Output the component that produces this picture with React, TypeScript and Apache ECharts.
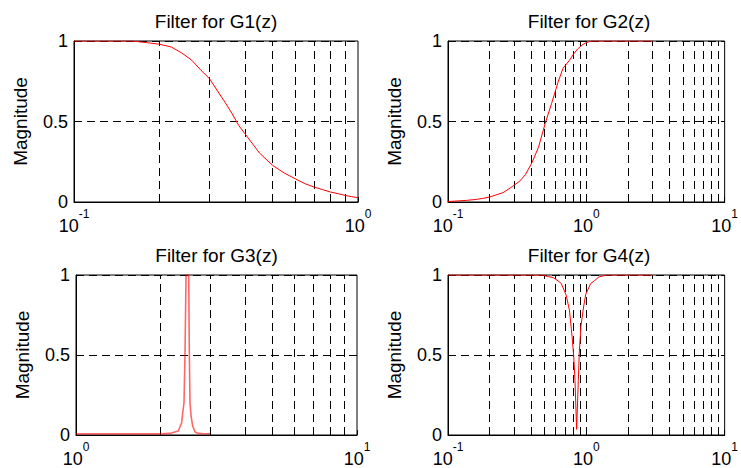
import React, { useEffect, useRef } from 'react';
import * as echarts from 'echarts';

const FONT = '"Liberation Sans", Arial, Helvetica, sans-serif';

const titles = ['Filter for G1(z)', 'Filter for G2(z)', 'Filter for G3(z)', 'Filter for G4(z)'];
const yName = 'Magnitude';
const yTicks = [0, 0.5, 1];

// G1: low-pass, 0.1 .. 1
const g1Freq = [0.1, 0.12, 0.14, 0.16, 0.18, 0.2, 0.22, 0.24, 0.26, 0.28, 0.3, 0.32, 0.34, 0.36, 0.38, 0.4, 0.45, 0.5, 0.55, 0.6, 0.65, 0.7, 0.75, 0.8, 0.85, 0.9, 0.95, 1.0];
const g1Mag = [1, 1, 1, 1, 0.99, 0.98, 0.963, 0.925, 0.88, 0.818, 0.766, 0.69, 0.62, 0.55, 0.476, 0.424, 0.304, 0.228, 0.18, 0.145, 0.114, 0.093, 0.077, 0.062, 0.052, 0.041, 0.033, 0.027];

// G2: high-pass, 0.1 .. 3
const g2Freq = [0.1, 0.12, 0.136, 0.16, 0.18, 0.2, 0.25, 0.292, 0.33, 0.363, 0.405, 0.451, 0.503, 0.56, 0.625, 0.678, 0.755, 0.81, 0.865, 0.93, 0.99, 1.05, 1.106, 1.5, 2, 3];
const g2Mag = [0.003, 0.007, 0.01, 0.016, 0.023, 0.031, 0.058, 0.096, 0.13, 0.17, 0.245, 0.34, 0.485, 0.61, 0.745, 0.83, 0.88, 0.92, 0.95, 0.975, 0.988, 0.996, 1, 1, 1, 1];

// G3: narrow band-pass, 1 .. 3
const g3Freq = [1, 1.5, 2, 2.16, 2.312, 2.377, 2.398, 2.423, 2.443, 2.464, 2.518, 2.531, 2.545, 2.567, 2.602, 2.652, 2.725, 2.85, 3];
const g3Mag = [0.008, 0.008, 0.008, 0.01, 0.025, 0.077, 0.14, 0.2, 0.51, 1, 1, 0.51, 0.2, 0.12, 0.056, 0.019, 0.01, 0.008, 0.008];

// G4: notch, 0.1 .. 3
const g4Freq = [0.1, 0.3, 0.45, 0.489, 0.53, 0.576, 0.625, 0.659, 0.715, 0.755, 0.789, 0.811, 0.828, 0.851, 0.875, 0.889, 0.914, 0.955, 0.991, 1.076, 1.14, 1.233, 1.41, 2, 3];
const g4Mag = [1, 1, 1, 0.998, 0.99, 0.984, 0.963, 0.947, 0.874, 0.78, 0.615, 0.49, 0.34, 0.035, 0.34, 0.51, 0.68, 0.8, 0.88, 0.947, 0.963, 0.988, 1, 1, 1];

const xMin = [0.1, 0.1, 1, 0.1];
const xMax = [1, 10, 10, 10];

const gridA = [0.2, 0.3, 0.4, 0.5, 0.6, 0.7, 0.8, 0.9];
const gridB = [0.2, 0.3, 0.4, 0.5, 0.6, 0.7, 0.8, 0.9, 1, 2, 3, 4, 5, 6, 7, 8, 9];
const gridC = [2, 3, 4, 5, 6, 7, 8, 9];
const vGrids = [gridA, gridB, gridC, gridB];

const freqs = [g1Freq, g2Freq, g3Freq, g4Freq];
const mags = [g1Mag, g2Mag, g3Mag, g4Mag];

const rects = [
  { left: 74, top: 41, width: 284, height: 161 },
  { left: 448, top: 41, width: 282, height: 161 },
  { left: 76, top: 275, width: 281, height: 161 },
  { left: 448, top: 275, width: 282, height: 161 },
];
const titleY = [21, 255];

const DASH = [8, 5];

export default function App() {
  const ref = useRef<HTMLDivElement>(null);
  useEffect(() => {
    if (!ref.current) return;
    const chart = echarts.init(ref.current, undefined, { renderer: 'svg' });
    const grid = rects.map((r) => ({
      ...r,
      show: true,
      borderColor: '#000',
      borderWidth: 1,
      backgroundColor: '#fff',
      containLabel: false,
    }));
    const xAxis = rects.map((_, i) => ({
      type: 'log',
      logBase: 10,
      gridIndex: i,
      min: xMin[i],
      max: xMax[i],
      axisLine: { show: true, lineStyle: { color: '#000', width: 1 } },
      axisTick: { show: true, inside: true, length: 5, lineStyle: { color: '#000' } },
      splitLine: { show: false },
      axisLabel: {
        margin: 6,
        color: '#000',
        formatter: (v: number) => {
          const e = Math.round(Math.log10(v));
          return `{b|10}{s|${e}}`;
        },
        rich: {
          b: { fontSize: 18, lineHeight: 27, fontFamily: FONT, color: '#000', verticalAlign: 'bottom' },
          s: { fontSize: 12, lineHeight: 12, fontFamily: FONT, color: '#000', verticalAlign: 'top' },
        },
      },
    }));
    const yAxis = rects.map((_, i) => ({
      type: 'value',
      gridIndex: i,
      min: yTicks[0],
      max: yTicks[yTicks.length - 1],
      interval: 0.5,
      name: yName,
      nameLocation: 'middle',
      nameGap: 44,
      nameTextStyle: { fontSize: 19, fontFamily: FONT, color: '#000' },
      axisLine: { show: true, lineStyle: { color: '#000', width: 1 } },
      axisTick: { show: true, inside: true, length: 5, lineStyle: { color: '#000' } },
      splitLine: { show: true, lineStyle: { color: '#000', type: DASH, width: 1 } },
      axisLabel: { margin: 6, fontSize: 18, fontFamily: FONT, color: '#000' },
    }));
    const series = rects.map((_, i) => ({
      type: 'line',
      xAxisIndex: i,
      yAxisIndex: i,
      data: freqs[i].map((f, k) => [f, mags[i][k]]),
      showSymbol: false,
      symbol: 'none',
      clip: true,
      z: 3,
      lineStyle: i === 2 ? { color: 'rgba(255,0,0,0.6)', width: 1.6 } : { color: '#ff0000', width: 1 },
      emphasis: { disabled: true },
      markLine: {
        silent: true,
        symbol: ['none', 'none'],
        z: 1,
        label: { show: false },
        lineStyle: { color: '#000', type: DASH, width: 1 },
        emphasis: { disabled: true },
        data: vGrids[i].map((v) => ({ xAxis: v })),
      },
    }));
    const graphic = rects.map((r, i) => ({
      type: 'text',
      x: r.left + r.width / 2,
      y: titleY[i < 2 ? 0 : 1],
      style: {
        text: titles[i],
        fontSize: 19,
        fontFamily: FONT,
        fill: '#000',
        align: 'center',
        verticalAlign: 'middle',
      },
    }));
    chart.setOption({
      animation: false,
      backgroundColor: '#fff',
      textStyle: { fontFamily: FONT },
      grid,
      xAxis,
      yAxis,
      series,
      graphic,
    } as any);
    return () => chart.dispose();
  }, []);
  return (
    <div
      ref={ref}
      style={{ position: 'absolute', left: 0, top: 0, width: 741, height: 468, background: '#fff' }}
    />
  );
}
